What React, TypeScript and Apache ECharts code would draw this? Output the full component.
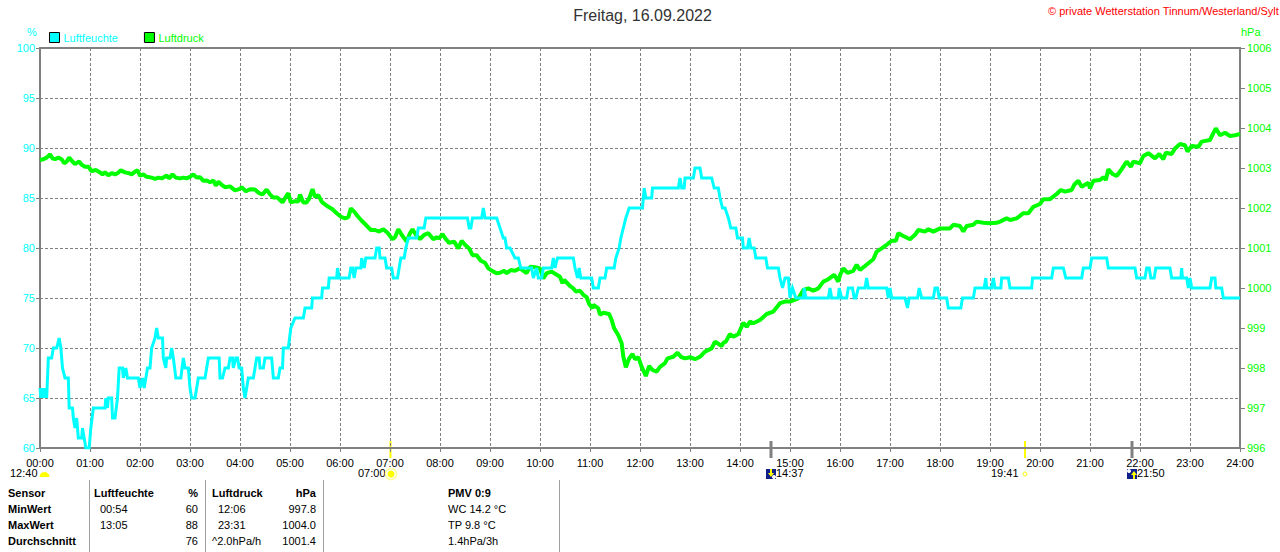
import React, { useEffect, useRef } from "react";
import * as echarts from "echarts";

const FONT = '"Liberation Sans", Arial, sans-serif';
const GRAY = "#808080";
const CYAN = "#00ffff";
const GREEN = "#00ff00";

// [minute of day, % relative humidity]
const humidity: number[][] = [
[0,66],[1,65],[2,66],[3,65],[4,66],[5,65],[6,66],[8,65],[10,69],[14,69],[16,70],[20,70],[23,71],[25,70],[27,68],[30,67],[34,67],[35,64],[39,64],[40,63],[42,62],[44,63],[46,61],[50,61],[51,62],[53,61],[55,60],[59,60],[61,62],[64,64],[78,64],[79,65],[81,64],[82,65],[86,65],[87,63],[90,63],[93,65],[95,68],[99,68],[100,67],[103,68],[105,67],[118,67],[120,66],[123,67],[125,66],[127,67],[129,68],[132,68],[134,70],[138,71],[140,72],[142,71],[147,71],[148,69],[151,68],[152,69],[156,69],[158,70],[160,69],[163,67],[169,67],[172,69],[174,68],[178,68],[180,66],[182,65],[186,65],[188,66],[190,67],[198,67],[200,68],[202,69],[215,69],[216,67],[219,67],[222,68],[226,68],[228,69],[231,69],[232,68],[235,69],[237,69],[239,68],[242,68],[244,66],[246,65],[248,66],[250,67],[256,67],[260,69],[263,69],[264,68],[268,68],[270,69],[278,69],[280,67],[286,67],[288,68],[291,68],[292,70],[298,70],[301,72],[306,73],[316,73],[318,74],[326,74],[327,75],[338,75],[339,76],[346,76],[347,77],[356,77],[357,78],[359,77],[371,77],[373,78],[375,78],[377,77],[379,78],[385,78],[386,79],[389,78],[391,79],[402,79],[404,80],[407,80],[408,79],[414,79],[416,78],[422,78],[424,77],[429,77],[431,78],[433,79],[437,79],[439,80],[442,81],[452,81],[454,82],[461,82],[463,83],[513,83],[515,82],[517,82],[519,83],[530,83],[532,84],[534,83],[548,83],[552,82],[556,81],[558,81],[560,80],[564,80],[570,79],[574,79],[577,78],[590,78],[592,77],[596,78],[598,77],[602,77],[604,78],[614,78],[616,79],[618,78],[621,79],[640,79],[642,78],[645,77],[647,78],[649,77],[662,77],[664,76],[670,76],[672,77],[678,77],[680,78],[689,78],[691,79],[695,80],[697,81],[700,82],[703,83],[707,84],[723,84],[725,86],[727,85],[734,85],[735,86],[766,86],[768,87],[770,86],[773,86],[774,87],[784,87],[786,88],[792,88],[794,87],[806,87],[809,86],[814,86],[816,85],[819,84],[822,84],[826,83],[829,82],[835,82],[837,81],[843,81],[844,80],[849,80],[851,81],[853,80],[857,80],[859,79],[871,79],[873,78],[886,78],[888,77],[891,76],[894,77],[898,77],[900,75],[903,76],[907,75],[916,75],[917,76],[919,75],[946,75],[948,76],[950,75],[958,75],[959,76],[962,75],[968,75],[970,76],[975,76],[977,75],[979,75],[982,76],[990,76],[992,77],[994,76],[1016,76],[1018,75],[1020,76],[1022,75],[1038,75],[1041,74],[1043,75],[1053,75],[1055,76],[1058,75],[1072,75],[1074,76],[1077,76],[1079,75],[1088,75],[1090,74],[1105,74],[1107,75],[1120,75],[1122,76],[1133,76],[1135,77],[1136,76],[1142,76],[1144,77],[1146,76],[1153,76],[1154,77],[1162,77],[1164,76],[1190,76],[1191,77],[1214,77],[1216,78],[1228,78],[1231,77],[1250,77],[1252,78],[1260,78],[1262,79],[1280,79],[1282,78],[1314,78],[1316,77],[1326,77],[1328,78],[1331,78],[1333,77],[1337,77],[1339,78],[1356,78],[1358,77],[1369,77],[1370,78],[1371,77],[1376,77],[1378,76],[1380,77],[1382,76],[1404,76],[1406,77],[1410,77],[1411,76],[1418,76],[1420,75],[1440,75],
];

// [minute of day, hPa]
const pressure: number[][] = [
[0,1003.2],[4,1003.22],[8,1003.26],[12,1003.34],[15,1003.24],[18,1003.22],[22,1003.26],[26,1003.22],[29,1003.12],[32,1003.16],[35,1003.26],[38,1003.18],[42,1003.1],[47,1003.16],[50,1003.08],[54,1003.03],[58,1003.03],[62,1002.92],[67,1002.95],[72,1002.89],[75,1002.84],[78,1002.89],[82,1002.82],[86,1002.87],[90,1002.84],[93,1002.87],[97,1002.94],[102,1002.89],[107,1002.87],[110,1002.84],[114,1002.91],[117,1002.94],[120,1002.81],[124,1002.84],[128,1002.78],[134,1002.76],[138,1002.73],[142,1002.76],[146,1002.74],[152,1002.81],[155,1002.74],[159,1002.84],[163,1002.76],[168,1002.74],[172,1002.76],[176,1002.74],[180,1002.78],[184,1002.84],[188,1002.76],[192,1002.77],[196,1002.68],[200,1002.69],[204,1002.64],[208,1002.69],[211,1002.56],[214,1002.66],[218,1002.58],[222,1002.52],[228,1002.54],[234,1002.44],[239,1002.47],[242,1002.52],[247,1002.42],[252,1002.47],[258,1002.46],[263,1002.37],[267,1002.34],[272,1002.46],[276,1002.34],[280,1002.26],[285,1002.26],[288,1002.2],[291,1002.14],[295,1002.28],[298,1002.37],[301,1002.14],[306,1002.17],[310,1002.16],[312,1002.34],[316,1002.14],[320,1002.14],[323,1002.24],[327,1002.47],[330,1002.28],[334,1002.32],
[338,1002.16],[340,1002.12],[346,1002.03],[351,1001.97],[356,1001.87],[362,1001.77],[366,1001.74],[370,1001.77],[373,1001.99],[377,1001.91],[381,1001.8],[386,1001.68],[391,1001.58],[397,1001.45],[402,1001.45],[407,1001.41],[412,1001.47],[417,1001.38],[423,1001.22],[426,1001.27],[430,1001.47],[434,1001.33],[440,1001.16],[444,1001.37],[447,1001.47],[451,1001.33],[456,1001.22],[461,1001.33],[466,1001.37],[472,1001.22],[476,1001.27],[479,1001.24],[483,1001.35],[487,1001.22],[491,1001.13],[497,1001.16],[502,1000.99],[506,1001.18],[510,1001.08],[515,1000.99],[519,1000.82],[524,1000.82],[529,1000.68],[534,1000.63],[538,1000.49],[544,1000.41],[548,1000.37],[552,1000.38],[557,1000.43],[560,1000.37],[565,1000.45],[570,1000.43],[576,1000.49],[584,1000.37],[588,1000.53],[594,1000.52],[600,1000.49],[604,1000.24],[608,1000.37],[614,1000.41],[620,1000.33],[624,1000.28],
[627,1000.12],[629,1000.2],[636,1000.05],[640,999.99],[643,999.91],[648,999.93],[652,999.83],[656,999.77],[659,999.6],[663,999.49],[664,999.58],[670,999.49],[672,999.33],[676,999.38],[683,999.35],[686,999.2],[689,998.99],[694,998.82],[698,998.62],[700,998.28],[703,998.02],[707,998.24],[711,998.35],[714,998.22],[718,998.27],[722,998.03],[727,997.8],[731,998.05],[735,997.95],[740,997.91],[744,998.03],[750,998.12],[753,998.24],[760,998.28],[765,998.38],[769,998.28],[774,998.24],[780,998.27],[786,998.22],[792,998.28],[798,998.41],[806,998.49],[810,998.66],[818,998.55],[820,998.63],[823,998.66],[828,998.85],[832,998.78],[838,998.85],[844,999.13],[848,999.03],[852,999.16],[856,999.12],[864,999.2],[872,999.35],[880,999.41],[888,999.62],[894,999.66],[900,999.66],[910,999.74],[916,999.95],[922,999.99],[928,999.93],[934,999.99],[940,1000.16],[946,1000.22],[953,1000.33],[958,1000.16],
[960,1000.32],[964,1000.49],[969,1000.38],[976,1000.43],[980,1000.58],[984,1000.45],[990,1000.55],[994,1000.62],[1000,1000.72],[1004,1000.91],[1010,1000.99],[1016,1001.08],[1022,1001.18],[1027,1001.18],[1030,1001.37],[1036,1001.3],[1044,1001.22],[1050,1001.33],[1054,1001.45],[1062,1001.41],[1066,1001.47],[1072,1001.41],[1080,1001.49],[1092,1001.49],[1096,1001.58],[1104,1001.55],[1108,1001.41],[1112,1001.55],[1120,1001.58],[1124,1001.66],[1132,1001.63],[1140,1001.62],[1148,1001.63],[1152,1001.66],
[1160,1001.74],[1164,1001.7],[1172,1001.74],[1180,1001.87],[1186,1001.87],[1192,1002.03],[1200,1002.1],[1204,1002.22],[1212,1002.22],[1220,1002.35],[1225,1002.45],[1230,1002.41],[1238,1002.45],[1241,1002.58],[1246,1002.68],[1250,1002.53],[1258,1002.63],[1260,1002.49],[1264,1002.68],[1272,1002.7],[1276,1002.77],[1279,1002.7],[1282,1002.97],[1287,1002.85],[1292,1002.8],[1298,1002.97],[1304,1003.16],[1309,1003.03],[1312,1003.16],[1320,1003.12],[1324,1003.3],[1330,1003.37],[1338,1003.24],[1343,1003.35],[1348,1003.22],[1351,1003.38],[1358,1003.35],[1362,1003.49],[1368,1003.6],[1374,1003.57],[1377,1003.41],[1382,1003.55],[1390,1003.53],[1394,1003.66],[1404,1003.7],[1408,1003.87],[1411,1003.99],[1416,1003.82],[1422,1003.88],[1428,1003.8],[1434,1003.82],[1440,1003.85],
];

const tableSensor = ["Sensor", "MinWert", "MaxWert", "Durchschnitt"];
const tableHumTime = ["Luftfeuchte", "00:54", "13:05", ""];
const tableHumVal = ["%", "60", "88", "76"];
const tablePresTime = ["Luftdruck", "12:06", "23:31", "^2.0hPa/h"];
const tablePresVal = ["hPa", "997.8", "1004.0", "1001.4"];
const tablePmv = ["PMV 0:9", "WC 14.2 °C", "TP 9.8 °C", "1.4hPa/3h"];
const tableY = [493, 509, 525, 541];
const tableSeps = [89, 205, 323, 559];

const txt = (text: string, x: number, y: number, fill = "#000", align = "left", size = 11, weight = "normal") => ({
  type: "text", x, y, silent: true,
  style: { text, fill, align, verticalAlign: "middle", fontFamily: FONT, fontSize: size, fontWeight: weight },
});
const vline = (x: number, y1: number, y2: number, stroke: string, lineWidth: number) => ({
  type: "line", silent: true, shape: { x1: x, y1, x2: x, y2 }, style: { stroke, lineWidth },
});
const navyIcon = (x: number, y: number, up: boolean) => [
  { type: "rect", silent: true, shape: { x, y, width: 10, height: 10 }, style: { fill: "#10208a" } },
  { type: "circle", silent: true, shape: { cx: up ? x + 2 : x + 8, cy: up ? y + 2 : y + 8, r: 2 }, style: { fill: "#fff" } },
  { type: "polygon", silent: true, shape: { points: up
      ? [[x + 7, y + 2], [x + 10, y + 6], [x + 8, y + 6], [x + 8, y + 10], [x + 6, y + 10], [x + 6, y + 6], [x + 4, y + 6]]
      : [[x + 4, y + 0], [x + 6, y + 0], [x + 6, y + 4], [x + 8, y + 4], [x + 5, y + 8], [x + 2, y + 4], [x + 4, y + 4]] }, style: { fill: "#ffff00" } },
];

const rows = () => {
  const out: any[] = [];
  tableY.forEach((y, i) => {
    const w = i === 0 ? "bold" : "normal";
    out.push(txt(tableSensor[i], 8, y, "#000", "left", 11, "bold"));
    out.push(txt(tableHumTime[i], i === 0 ? 94 : 100, y, "#000", "left", 11, w));
    out.push(txt(tableHumVal[i], 198, y, "#000", "right", 11, w));
    out.push(txt(tablePresTime[i], i === 0 || i === 3 ? 212 : 218, y, "#000", "left", 11, w));
    out.push(txt(tablePresVal[i], 316, y, "#000", "right", 11, w));
    out.push(txt(tablePmv[i], 448, y, "#000", "left", 11, w));
  });
  tableSeps.forEach((x) => out.push(vline(x + 0.5, 480, 552, "#a0a0a0", 1)));
  return out;
};

const hhmm = (v: number) => `${String(Math.floor(v / 60)).padStart(2, "0")}:00`;

export default function App() {
  const ref = useRef<HTMLDivElement>(null);
  useEffect(() => {
    const chart = echarts.init(ref.current!, null, { renderer: "svg" });
    chart.setOption({
      animation: false,
      backgroundColor: "#fff",
      textStyle: { fontFamily: FONT },
      grid: { left: 40, right: 40, top: 48, bottom: 104, show: true, borderColor: GRAY, borderWidth: 2, backgroundColor: "transparent" },
      legend: {
        left: 49, top: 32, itemWidth: 10, itemHeight: 10, itemGap: 26, icon: "rect", padding: 0, selectedMode: false,
        data: [
          { name: "Luftfeuchte", itemStyle: { color: CYAN, borderColor: "#000", borderWidth: 1 }, textStyle: { color: CYAN, fontSize: 11, fontFamily: FONT, padding: [0, 0, 0, -1] } },
          { name: "Luftdruck", itemStyle: { color: GREEN, borderColor: "#000", borderWidth: 1 }, textStyle: { color: GREEN, fontSize: 11, fontFamily: FONT, padding: [0, 0, 0, -1] } },
        ],
      },
      xAxis: {
        type: "value", min: 0, max: 1440, interval: 60,
        axisLine: { lineStyle: { color: GRAY, width: 2 } },
        axisTick: { length: 4, lineStyle: { color: GRAY } },
        axisLabel: { color: "#000", fontSize: 11, fontFamily: FONT, margin: 9, formatter: hhmm, showMinLabel: true, showMaxLabel: true },
        splitLine: { show: true, lineStyle: { color: GRAY, type: [3, 2], width: 1 } },
      },
      yAxis: [
        {
          type: "value", min: 60, max: 100, interval: 5,
          axisLine: { show: true, lineStyle: { color: GRAY, width: 2 } },
          axisTick: { show: true, length: 4, lineStyle: { color: GRAY } },
          axisLabel: { color: CYAN, fontSize: 11, fontFamily: FONT, margin: 5 },
          splitLine: { show: true, lineStyle: { color: GRAY, type: [3, 2], width: 1 } },
        },
        {
          type: "value", min: 996, max: 1006, interval: 1, position: "right",
          axisLine: { show: true, lineStyle: { color: GRAY, width: 2 } },
          axisTick: { show: true, length: 5, lineStyle: { color: GRAY } },
          axisLabel: { color: GREEN, fontSize: 11, fontFamily: FONT, margin: 7, formatter: (v: number) => String(v) },
          splitLine: { show: false },
        },
      ],
      series: [
        { name: "Luftdruck", type: "line", yAxisIndex: 1, data: pressure, showSymbol: false, symbol: "none", lineStyle: { color: GREEN, width: 4, join: "bevel" }, itemStyle: { color: GREEN }, z: 2 },
        { name: "Luftfeuchte", type: "line", yAxisIndex: 0, data: humidity, showSymbol: false, symbol: "none", lineStyle: { color: CYAN, width: 3, join: "miter" }, itemStyle: { color: CYAN }, z: 3 },
      ],
      graphic: [
        txt("Freitag, 16.09.2022", 642.5, 15, "#333", "center", 16),
        txt("© private Wetterstation Tinnum/Westerland/Sylt", 1048, 11, "#ff0000", "left", 11),
        txt("%", 27, 32, CYAN),
        txt("hPa", 1241, 32, GREEN),
        vline(390.5, 441, 458, "#ffff00", 2),
        vline(1025, 441, 458, "#ffff00", 2),
        vline(771, 441, 458, GRAY, 3),
        vline(1132, 441, 458, GRAY, 3),
        txt("12:40", 10, 473),
        { type: "sector", silent: true, shape: { cx: 44.5, cy: 477, r: 5, startAngle: Math.PI, endAngle: 2 * Math.PI }, style: { fill: "#ffff00" } },
        txt("07:00", 358, 473),
        { type: "circle", silent: true, shape: { cx: 391, cy: 474, r: 5.5 }, style: { fill: "none", stroke: "#ffffa0", lineWidth: 1.5 } },
        { type: "circle", silent: true, shape: { cx: 391, cy: 474, r: 3.5 }, style: { fill: "#ffff00" } },
        ...navyIcon(766, 469, false),
        txt("14:37", 776, 473),
        txt("19:41", 991, 473),
        { type: "circle", silent: true, shape: { cx: 1025, cy: 474, r: 2 }, style: { fill: "#fff", stroke: "#ffff00", lineWidth: 1 } },
        ...navyIcon(1127, 469, true),
        txt("21:50", 1137, 473),
        ...rows(),
      ],
    });
    return () => chart.dispose();
  }, []);
  return <div ref={ref} style={{ position: "absolute", left: 0, top: 0, width: 1280, height: 552, background: "#fff" }} />;
}
